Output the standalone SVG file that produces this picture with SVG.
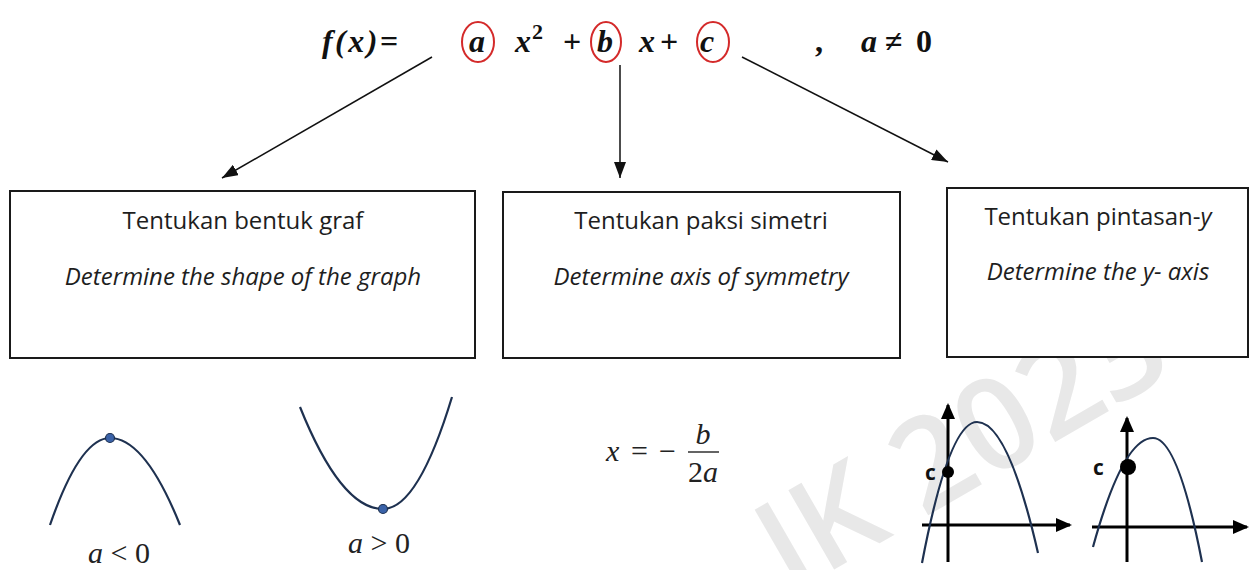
<svg xmlns="http://www.w3.org/2000/svg" width="1250" height="570" viewBox="0 0 1250 570">
<style>
.box{fill:#fff;stroke:#1a1a1a;stroke-width:2}
.t1{font-family:"Open Sans",sans-serif;font-size:24px;fill:#1e1e1e;text-anchor:middle}
.t2{font-family:"Open Sans",sans-serif;font-size:24px;font-style:italic;fill:#1e1e1e;text-anchor:middle}
.fm{font-family:"Liberation Serif",serif;font-size:32px;font-weight:bold;font-style:italic;fill:#111}
.fu{font-family:"Liberation Serif",serif;font-size:32px;font-weight:bold;fill:#111}
.sup{font-family:"Liberation Serif",serif;font-size:22px;font-weight:bold;fill:#111}
.ring{fill:none;stroke:#d42a2a;stroke-width:2}
.conn{stroke:#111;stroke-width:1.5;fill:none}
.curve{fill:none;stroke:#1e3150;stroke-width:2.2}
.axis{stroke:#000;stroke-width:3;fill:none}
.mi{font-family:"Liberation Serif",serif;font-size:30px;font-style:italic;fill:#222}
.mu{font-family:"Liberation Serif",serif;font-size:30px;fill:#222}
.cl{font-family:"Open Sans",sans-serif;font-size:21px;font-weight:bold;fill:#111}
.wm{font-family:"Open Sans",sans-serif;font-size:128px;font-weight:600;fill:#e8e8e8}
</style>
<defs>
<marker id="arr" viewBox="0 0 16 12" refX="16" refY="6" markerWidth="16" markerHeight="12" markerUnits="userSpaceOnUse" orient="auto"><path d="M0,0 L16,6 L0,12 z" fill="#111"/></marker>
<marker id="ax" viewBox="0 0 16 14" refX="14" refY="7" markerWidth="16" markerHeight="14" markerUnits="userSpaceOnUse" orient="auto"><path d="M0,0 L16,7 L0,14 z" fill="#000"/></marker>
</defs>
<rect width="1250" height="570" fill="#fff"/>
<text class="wm" transform="translate(790,595) rotate(-30)">IK 2023</text>

<g id="formula">
<text class="fm" x="322" y="52" textLength="76" lengthAdjust="spacing">f(x)=</text>
<text class="fm" x="469" y="52">a</text>
<ellipse class="ring" cx="478" cy="42" rx="16" ry="20"/>
<text class="fm" x="515" y="52">x</text>
<text class="sup" x="532" y="39">2</text>
<text class="fu" x="563" y="52">+</text>
<text class="fm" x="597" y="52">b</text>
<ellipse class="ring" cx="606" cy="42" rx="15" ry="20"/>
<text class="fm" x="639" y="52">x</text>
<text class="fu" x="660" y="52">+</text>
<text class="fm" x="700" y="52">c</text>
<ellipse class="ring" cx="713" cy="42" rx="16" ry="20"/>
<text class="fu" x="815" y="52">,</text>
<text class="fm" x="861" y="52">a</text>
<text class="fu" x="885" y="52">≠</text>
<text class="fu" x="916" y="52">0</text>
</g>

<g id="connectors">
<line class="conn" x1="432" y1="57" x2="222" y2="178" marker-end="url(#arr)"/>
<line class="conn" x1="620" y1="65" x2="620" y2="178" marker-end="url(#arr)"/>
<line class="conn" x1="742" y1="57" x2="948" y2="162" marker-end="url(#arr)"/>
</g>

<g id="box-shape">
<rect class="box" x="10" y="191" width="465" height="167"/>
<text class="t1" x="243" y="229">Tentukan bentuk graf</text>
<text class="t2" x="243" y="285">Determine the shape of the graph</text>
</g>
<g id="box-symmetry">
<rect class="box" x="503" y="192" width="397" height="166"/>
<text class="t1" x="701" y="229">Tentukan paksi simetri</text>
<text class="t2" x="701" y="285">Determine axis of symmetry</text>
</g>
<g id="box-intercept">
<rect class="box" x="947" y="188" width="301" height="169"/>
<text class="t1" x="1098" y="225">Tentukan pintasan-<tspan font-style="italic">y</tspan></text>
<text class="t2" x="1098" y="280">Determine the y- axis</text>
</g>

<g id="graph-negative">
<path class="curve" d="M50,525 Q80,438 110,438 Q145,438 180,525"/>
<circle cx="110" cy="438" r="4.5" fill="#3a62a8" stroke="#1e3150" stroke-width="1.2"/>
<text x="88" y="563"><tspan class="mi">a</tspan><tspan class="mu"> &lt; 0</tspan></text>
</g>
<g id="graph-positive">
<path class="curve" d="M300,407 Q341,509 383,509 Q418,509 452,397"/>
<circle cx="383" cy="509" r="4.5" fill="#3a62a8" stroke="#1e3150" stroke-width="1.2"/>
<text x="348" y="553"><tspan class="mi">a</tspan><tspan class="mu"> &gt; 0</tspan></text>
</g>
<g id="symmetry-formula">
<text class="mi" x="606" y="461">x</text>
<text class="mu" x="631" y="461">=</text>
<text class="mu" x="659" y="461">−</text>
<line x1="688" y1="452" x2="719" y2="452" stroke="#222" stroke-width="1.4"/>
<text class="mi" x="703" y="444" text-anchor="middle">b</text>
<text x="703" y="482" text-anchor="middle"><tspan class="mu">2</tspan><tspan class="mi">a</tspan></text>
</g>
<g id="graph-intercept-1">
<line class="axis" x1="948" y1="562" x2="948" y2="405" marker-end="url(#ax)"/>
<line class="axis" x1="922" y1="525" x2="1070" y2="525" marker-end="url(#ax)"/>
<path class="curve" d="M922,563 Q949,422 977,422 Q1008,422 1038,553"/>
<circle cx="948" cy="472" r="6" fill="#000"/>
<text class="cl" x="925" y="480">c</text>
</g>
<g id="graph-intercept-2">
<line class="axis" x1="1127" y1="562" x2="1127" y2="418" marker-end="url(#ax)"/>
<line class="axis" x1="1092" y1="527" x2="1247" y2="527" marker-end="url(#ax)"/>
<path class="curve" d="M1093,547 Q1123,438 1153,438 Q1178,438 1202,562"/>
<circle cx="1128" cy="467" r="8" fill="#000"/>
<text class="cl" x="1093" y="475">c</text>
</g>
</svg>
